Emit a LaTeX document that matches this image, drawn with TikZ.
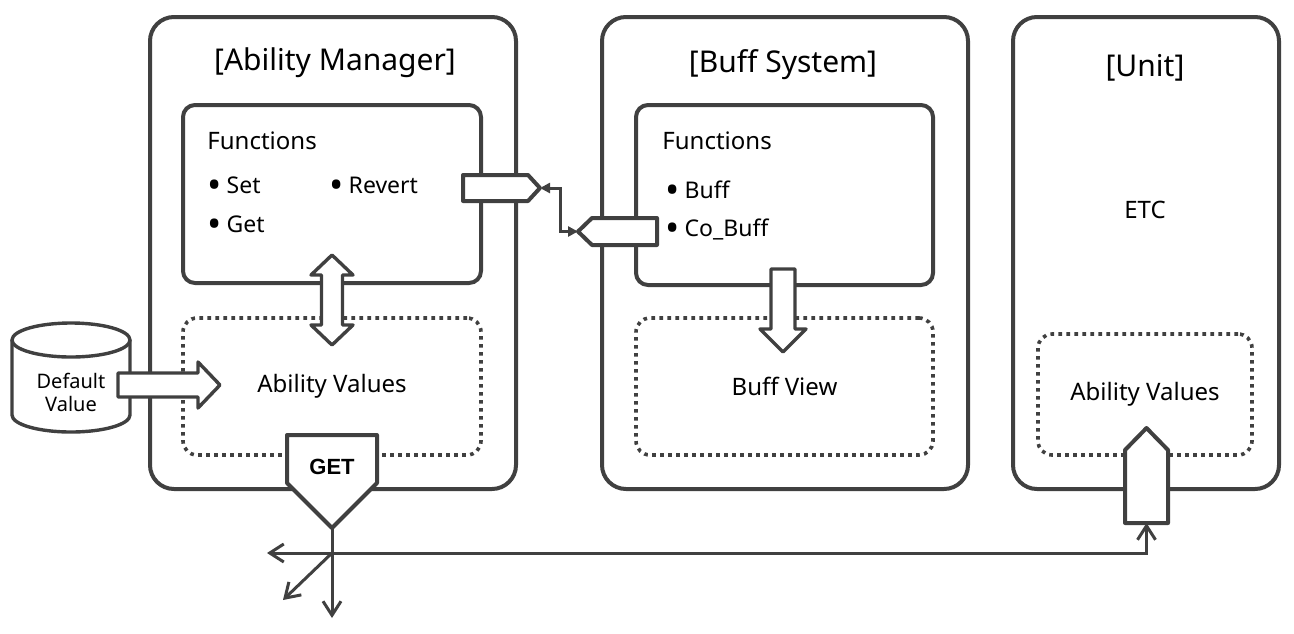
\documentclass[tikz,border=0pt]{standalone}
\usepackage{fontspec}
\setmainfont{Noto Sans}
\newfontfamily\getfont{Liberation Sans}
\usetikzlibrary{arrows.meta}
\definecolor{edge}{HTML}{404040}
\newcommand{\bul}{\raisebox{-2.6pt}{\fontsize{19}{19}\selectfont•}\hspace{2.5pt}}

\begin{document}
\begin{tikzpicture}[x=0.5pt,y=-0.5pt,
  outerbox/.style={draw=edge,line width=2pt,rounded corners=12pt,inner sep=0pt},
  funcbox/.style={draw=edge,line width=2pt,rounded corners=6pt,inner sep=0pt},
  valbox/.style={draw=edge,line width=1.8pt,dash pattern=on 1.8pt off 2.2pt,rounded corners=7pt,inner sep=0pt,font=\fontsize{12}{14}\selectfont},
  title/.style={font=\fontsize{15}{18}\selectfont},
  item/.style={anchor=base west,inner sep=0pt,font=\fontsize{11.5}{14}\selectfont},
  blockarrow/.style={draw=edge,fill=white,line width=1.7pt,line join=round},
  wire/.style={draw=edge,line width=1.5pt},
  barb/.tip={Straight Barb[length=7pt,width=9pt,line width=1.5pt]},
  tri/.tip={Triangle[length=5pt,width=5pt]}]
\useasboundingbox (0,0) rectangle (1294,633);
\node[outerbox,minimum width=183pt,minimum height=236pt] (am) at (333,253) {};
\node[outerbox,minimum width=183pt,minimum height=236pt] (bs) at (785,253) {};
\node[outerbox,minimum width=133pt,minimum height=236pt] (un) at (1146,253) {};
\node[title] (amtitle) at (335,63) {[Ability Manager]};
\node[title] (bstitle) at (783,65) {[Buff System]};
\node[title] (untitle) at (1145,68) {[Unit]};
\node[funcbox,minimum width=149pt,minimum height=89pt] (amfunc) at (332,194) {};
\node[funcbox,minimum width=148.5pt,minimum height=90pt] (bsfunc) at (784.5,195) {};
\node[item,font=\fontsize{12}{14}\selectfont] (amfn) at (207,149) {Functions};
\node[item] (set) at (207,193) {\bul Set};
\node[item] (revert) at (329,193) {\bul Revert};
\node[item] (get) at (207,232) {\bul Get};
\node[item,font=\fontsize{12}{14}\selectfont] (bsfn) at (662,149) {Functions};
\node[item] (buff) at (665,198) {\bul Buff};
\node[item] (cobuff) at (665,236) {\bul Co\_Buff};
\node[font=\fontsize{12}{14}\selectfont] (etc) at (1145,210) {ETC};
\node[valbox,minimum width=149pt,minimum height=68.5pt] (amval) at (332,386.5) {Ability Values};
\node[valbox,minimum width=148.5pt,minimum height=68.5pt] (bsval) at (784.5,386.5) {Buff View};
\node[valbox,minimum width=107pt,minimum height=60.5pt] (unval) at (1145,394.5) {Ability Values};
\draw[blockarrow] (12,340) -- (12,415) arc[start angle=180,end angle=360,x radius=29.5pt,y radius=8.5pt] -- (130,340);
\draw[blockarrow] (71,340) ellipse[x radius=29.5pt,y radius=8.5pt];
\node[font=\fontsize{10}{11.5}\selectfont,align=center] (dflt) at (71,392) {Default\\Value};
\draw[blockarrow] (118,373) -- (198,373) -- (198,362) -- (220,385) -- (198,408) -- (198,397) -- (118,397) -- cycle;
\draw[blockarrow] (332,255) -- (353,275) -- (342.5,275) -- (342.5,325) -- (353,325) -- (332,345) -- (311,325) -- (321.5,325) -- (321.5,275) -- (311,275) -- cycle;
\draw[blockarrow] (771,269) -- (795,269) -- (795,329) -- (806,329) -- (783,352) -- (760,329) -- (771,329) -- cycle;
\draw[blockarrow,line width=2pt] (463,175) -- (528,175) -- (540,188) -- (528,201) -- (463,201) -- cycle;
\draw[blockarrow,line width=2pt] (578,231.5) -- (592,218) -- (657,218) -- (657,245) -- (592,245) -- cycle;
\draw[blockarrow,line width=2pt] (287,435) -- (377,435) -- (377,483) -- (332,528) -- (287,483) -- cycle;
\node[font=\getfont\bfseries\fontsize{11}{13}\selectfont] (getlbl) at (332,467) {GET};
\draw[blockarrow,line width=2pt] (1146.5,428) -- (1168,450) -- (1168,523) -- (1125,523) -- (1125,450) -- cycle;
\coordinate (p1) at (540,188);
\coordinate (p2) at (578,231.5);
\coordinate (gettip) at (332,528);
\coordinate (cross) at (332,553);
\coordinate (down) at (332,618);
\coordinate (diag) at (283,600);
\coordinate (west) at (267,553);
\coordinate (upin) at (1146.5,523);
\draw[wire,tri-tri] (p1) -- ++(20,0) |- (p2);
\draw[wire,-barb] (gettip) -- (down);
\draw[wire,-barb] (cross) -- (diag);
\draw[wire,barb-barb] (west) -| (upin);
\end{tikzpicture}
\end{document}
